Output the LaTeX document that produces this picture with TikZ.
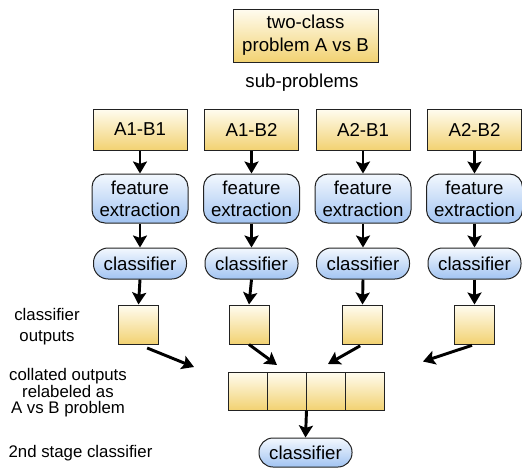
\documentclass[tikz,border=0pt]{standalone}
\usepackage{fontspec}
\setmainfont{Liberation Sans}
\usetikzlibrary{arrows.meta}

\definecolor{boxline}{RGB}{34,34,34}
\definecolor{yellowtop}{RGB}{255,252,240}
\definecolor{yellowmid}{RGB}{251,238,196}
\definecolor{yellowbot}{RGB}{242,210,114}
\definecolor{bluetop}{RGB}{243,248,254}
\definecolor{bluemid}{RGB}{214,230,250}
\definecolor{bluebot}{RGB}{162,196,242}

\tikzset{every picture/.style={line width=0.75pt}}
\tikzset{
  yellowbox/.style={draw=boxline, top color=yellowtop, middle color=yellowmid, bottom color=yellowbot, inner sep=0pt, align=center, font=\fontsize{14}{17}\selectfont},
  bluebox/.style={draw=boxline, top color=bluetop, middle color=bluemid, bottom color=bluebot, inner sep=0pt, align=center, rounded corners=9.75pt, font=\fontsize{14}{16.5}\selectfont},
  pill/.style={bluebox, rounded corners=11pt, minimum width=69.75pt, minimum height=23.25pt},
  subbox/.style={yellowbox, minimum width=70.5pt, minimum height=30.75pt},
  featbox/.style={bluebox, minimum width=72pt, minimum height=36.75pt},
  outbox/.style={yellowbox, minimum width=30pt, minimum height=29.25pt},
  cellbox/.style={yellowbox, minimum width=29.25pt, minimum height=28.5pt},
  sidelabel/.style={inner sep=0pt, align=center, font=\fontsize{12.6}{15.75}\selectfont},
  flow/.style={line width=2.2pt, -{Stealth[length=9pt,width=10.5pt,inset=1.8pt]}}
}

\begin{document}
\begin{tikzpicture}[x=0.75pt,y=0.75pt,yscale=-1,xscale=1]
    \useasboundingbox (0,0) rectangle (522,468);

    %Shape: Rectangle (top problem)
    \node [yellowbox, minimum width=108.75pt, minimum height=39.75pt] (top) at (305.5,35.5) {two-class\\problem A vs B};
    % Text Node
    \node [inner sep=0pt, font=\fontsize{14}{17}\selectfont] (sub) at (302,83) {sub-problems};

    %Shape: Rectangle (sub-problems)
    \node [subbox] (p1) at (140,129.5) {A1-B1};
    \node [subbox] (p2) at (251.5,129.5) {A1-B2};
    \node [subbox] (p3) at (363,129.5) {A2-B1};
    \node [subbox] (p4) at (474.5,129.5) {A2-B2};

    %Shape: Rounded Rectangle (features)
    \node [featbox] (f1) at (140,198.5) {feature\\extraction};
    \node [featbox] (f2) at (251.5,198.5) {feature\\extraction};
    \node [featbox] (f3) at (363,198.5) {feature\\extraction};
    \node [featbox] (f4) at (474.5,198.5) {feature\\extraction};

    %Shape: Pill (classifiers)
    \node [pill] (k1) at (140,263.5) {classifier};
    \node [pill] (k2) at (251.5,263.5) {classifier};
    \node [pill] (k3) at (363,263.5) {classifier};
    \node [pill] (k4) at (474.5,263.5) {classifier};

    %Shape: Square (outputs)
    \node [outbox] (o1) at (138.5,324.5) {};
    \node [outbox] (o2) at (249,324.5) {};
    \node [outbox] (o3) at (362.5,324.5) {};
    \node [outbox] (o4) at (474.5,324.5) {};

    %Shape: Rectangle (collated row)
    \node [cellbox] (c1) at (247.5,391) {};
    \node [cellbox] (c2) at (286.5,391) {};
    \node [cellbox] (c3) at (325.5,391) {};
    \node [cellbox] (c4) at (364.5,391) {};

    %Shape: Pill (2nd stage)
    \node [bluebox, rounded corners=10.5pt, minimum width=69.75pt, minimum height=21.75pt] (final) at (305.5,452.5) {classifier};

    %Straight Lines
    \draw [flow] (p1) -- (f1);
    \draw [flow] (p2) -- (f2);
    \draw [flow] (p3) -- (f3);
    \draw [flow] (p4) -- (f4);
    \draw [flow] (f1) -- (k1);
    \draw [flow] (f2) -- (k2);
    \draw [flow] (f3) -- (k3);
    \draw [flow] (f4) -- (k4);
    \draw [flow] (k1.south) -- (o1.north);
    \draw [flow] (k2.south) -- (o2.north);
    \draw [flow] (k3.south) -- (o3.north);
    \draw [flow] (k4.south) -- (o4.north);

    %Straight Lines (into the collated row)
    \coordinate (e1) at (194,367);
    \coordinate (e2) at (277,365);
    \coordinate (e3) at (328,364);
    \coordinate (e4) at (423,361.5);
    \draw [flow, shorten <=7pt] (o1.south) -- (e1);
    \draw [flow] (o2.south) -- (e2);
    \draw [flow, shorten <=2pt] (o3.south) -- (e3);
    \draw [flow, shorten <=2pt] (o4.south) -- (e4);
    \draw [flow] (c2.south east) -- (final.north);

    % Text Node
    \node [sidelabel] (lbout) at (47,327) {classifier\\outputs};
    % Text Node
    \node [sidelabel, font=\fontsize{12.6}{11.6}\selectfont] (lbcol) at (68,392.5) {collated outputs\\relabeled as\\A vs B problem};
    % Text Node
    \node [sidelabel] (lbfin) at (80.5,453) {2nd stage classifier};

\end{tikzpicture}
\end{document}
